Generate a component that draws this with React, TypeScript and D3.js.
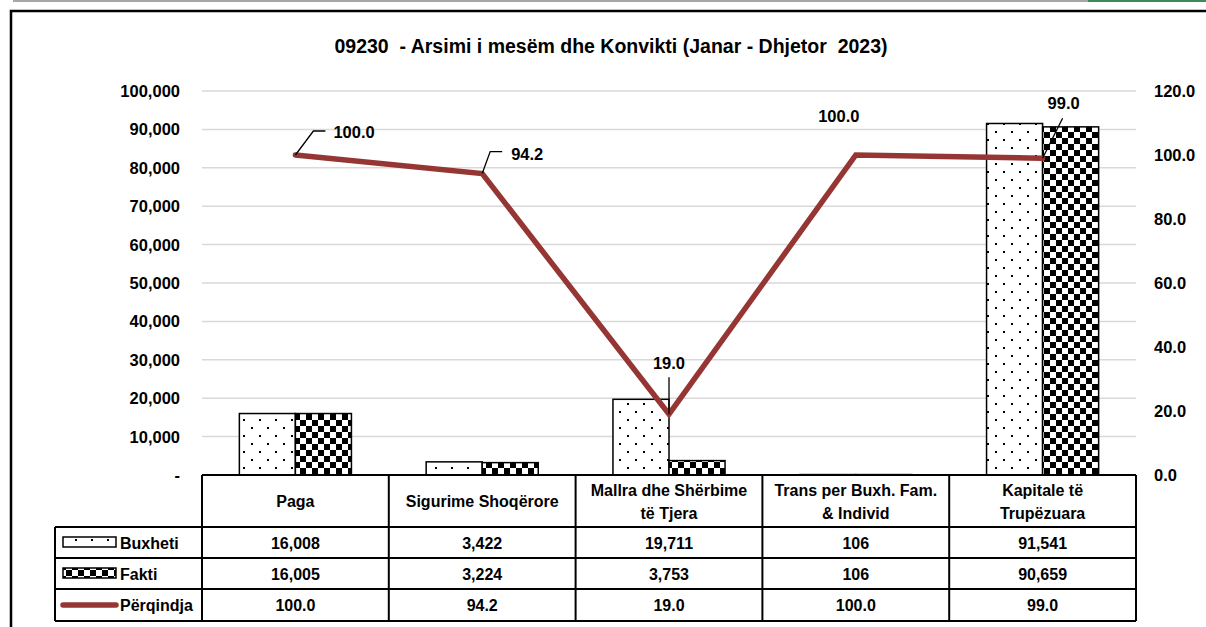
import React from "react";
import * as d3 from "d3";

const title = "09230  - Arsimi i mesëm dhe Konvikti (Janar - Dhjetor  2023)";
const categories = [
  ["Paga"],
  ["Sigurime Shoqërore"],
  ["Mallra dhe Shërbime", "të Tjera"],
  ["Trans per Buxh. Fam.", "& Individ"],
  ["Kapitale të", "Trupëzuara"],
];
const buxheti = [16008, 3422, 19711, 106, 91541];
const fakti = [16005, 3224, 3753, 106, 90659];
const perqindja = [100.0, 94.2, 19.0, 100.0, 99.0];
const leftTicks = [0, 10000, 20000, 30000, 40000, 50000, 60000, 70000, 80000, 90000, 100000];
const rightTicks = [0, 20, 40, 60, 80, 100, 120];
const seriesNames = ["Buxheti", "Fakti", "Përqindja"];

// label layout (offsets relative to points)
const labelOffsets = [
  { dx: 38, dy: -17, leader: [[18, -24], [30, -24]], anchor: "start" },
  { dx: 29, dy: -14, leader: [[8, -22], [20, -22]], anchor: "start" },
  { dx: 0, dy: -45, leader: [[0, -37]], anchor: "middle" },
  { dx: -17, dy: -33, leader: [], anchor: "middle" },
  { dx: 21, dy: -49, leader: [[20, -40]], anchor: "middle" },
];

const W = 1206;
const H = 627;
const plotL = 202;
const plotR = 1136;
const plotT = 91;
const plotB = 475;
const LINE = "#963634";
const FONT = "'Liberation Sans', Arial, sans-serif";

export default function App() {
  const x = d3.scaleBand<number>().domain(d3.range(categories.length)).range([plotL, plotR]).paddingInner(0).paddingOuter(0);
  const bw = x.bandwidth();
  const barW = bw * 0.3;
  const yL = d3.scaleLinear().domain([0, 100000]).range([plotB, plotT]);
  const yR = d3.scaleLinear().domain([0, 120]).range([plotB, plotT]);
  const cx = (i: number) => (x(i) as number) + bw / 2;
  const fmt = d3.format(",");
  const fmt1 = d3.format(".1f");

  const line = d3.line<number>().x((_, i) => cx(i)).y((d) => yR(d));

  const rowTop = [527, 558, 589];
  const rowBot = 621;
  const tableL = 55;

  return (
    <svg width={W} height={H} style={{ position: "absolute", left: 0, top: 0, background: "#fff" }} fontFamily={FONT}>
      <defs>
        <pattern id="dots" width="16" height="16" patternUnits="userSpaceOnUse">
          <rect width="16" height="16" fill="#fff" />
          <rect x="3" y="3" width="2" height="2" fill="#000" />
          <rect x="11" y="11" width="2" height="2" fill="#000" />
        </pattern>
        <pattern id="checker" width="12" height="12" patternUnits="userSpaceOnUse">
          <rect width="12" height="12" fill="#fff" />
          <rect x="0" y="0" width="6" height="6" fill="#000" />
          <rect x="6" y="6" width="6" height="6" fill="#000" />
        </pattern>
      </defs>
      {/* spreadsheet remnants at top */}
      <rect x={13} y={0} width={1075} height={2} fill="#a6a6a6" />
      <rect x={1088} y={0} width={118} height={2} fill="#3a8a5a" />
      {/* outer frame */}
      <rect x={11} y={11} width={1300} height={700} fill="none" stroke="#000" strokeWidth={2.5} />

      {/* title */}
      <text x={611} y={53} textAnchor="middle" fontSize={19.5} fontWeight="bold" style={{ whiteSpace: "pre" }}>
        {title}
      </text>

      {/* gridlines */}
      {leftTicks.slice(1).map((t) => (
        <line key={t} x1={plotL} x2={plotR} y1={yL(t)} y2={yL(t)} stroke="#d9d9d9" strokeWidth={1.5} />
      ))}

      {/* left axis labels */}
      {leftTicks.map((t) => (
        <text key={t} x={180} y={yL(t) + 6} textAnchor="end" fontSize={16.5} fontWeight="bold">
          {t === 0 ? "-" : fmt(t)}
        </text>
      ))}
      {/* right axis labels */}
      {rightTicks.map((t) => (
        <text key={t} x={1154} y={yR(t) + 6} textAnchor="start" fontSize={16.5} fontWeight="bold">
          {fmt1(t)}
        </text>
      ))}

      {/* bars */}
      {buxheti.map((v, i) => (
        <rect key={"b" + i} x={cx(i) - barW} y={yL(v)} width={barW} height={plotB - yL(v)} fill="url(#dots)" stroke="#000" strokeWidth={1.5} />
      ))}
      {fakti.map((v, i) => (
        <rect key={"f" + i} x={cx(i)} y={yL(v)} width={barW} height={plotB - yL(v)} fill="url(#checker)" stroke="#000" strokeWidth={1.5} />
      ))}

      {/* line */}
      <path d={line(perqindja) || ""} fill="none" stroke={LINE} strokeWidth={5.5} strokeLinejoin="miter" strokeLinecap="round" />

      {/* data labels */}
      {perqindja.map((v, i) => {
        const px = cx(i);
        const py = yR(v);
        const o = labelOffsets[i];
        const pts = [[0, 0], ...o.leader].map(([a, b]) => `${px + a},${py + b}`).join(" ");
        return (
          <g key={"l" + i}>
            {o.leader.length > 0 && <polyline points={pts} fill="none" stroke="#000" strokeWidth={1.3} />}
            <text x={px + o.dx} y={py + o.dy} textAnchor={o.anchor as any} fontSize={16.5} fontWeight="bold">
              {fmt1(v)}
            </text>
          </g>
        );
      })}

      {/* table */}
      <g stroke="#000" strokeWidth={2} fill="none">
        <line x1={plotL} x2={plotR} y1={plotB} y2={plotB} />
        <line x1={tableL} x2={plotR} y1={rowTop[0]} y2={rowTop[0]} />
        <line x1={tableL} x2={plotR} y1={rowTop[1]} y2={rowTop[1]} />
        <line x1={tableL} x2={plotR} y1={rowTop[2]} y2={rowTop[2]} />
        <line x1={tableL} x2={plotR} y1={rowBot} y2={rowBot} />
        <line x1={tableL} x2={tableL} y1={rowTop[0]} y2={rowBot} />
        {d3.range(categories.length + 1).map((i) => {
          const xx = i < categories.length ? (x(i) as number) : plotR;
          return <line key={i} x1={xx} x2={xx} y1={plotB} y2={rowBot} />;
        })}
      </g>
      {categories.map((lines, i) => (
        <text key={"c" + i} x={cx(i)} textAnchor="middle" fontSize={16} fontWeight="bold">
          {lines.map((s, k) => (
            <tspan key={k} x={cx(i)} y={(lines.length === 1 ? 507 : 496 + k * 23)}>
              {s}
            </tspan>
          ))}
        </text>
      ))}
      {[buxheti, fakti].map((arr, r) =>
        arr.map((v, i) => (
          <text key={r + "-" + i} x={cx(i)} y={(rowTop[r] + (r === 0 ? rowTop[1] : rowTop[2])) / 2 + 6} textAnchor="middle" fontSize={16} fontWeight="bold">
            {fmt(v)}
          </text>
        ))
      )}
      {perqindja.map((v, i) => (
        <text key={"p" + i} x={cx(i)} y={(rowTop[2] + rowBot) / 2 + 6} textAnchor="middle" fontSize={16} fontWeight="bold">
          {fmt1(v)}
        </text>
      ))}

      {/* legend keys */}
      <rect x={63} y={537} width={53} height={10} fill="url(#dots)" stroke="#000" strokeWidth={1.5} />
      <rect x={63} y={568} width={53} height={10} fill="url(#checker)" stroke="#000" strokeWidth={1.5} />
      <line x1={63} x2={116} y1={605} y2={605} stroke={LINE} strokeWidth={5.5} strokeLinecap="round" />
      {seriesNames.map((s, r) => (
        <text key={s} x={120} y={(rowTop[r] + (r < 2 ? rowTop[r + 1] : rowBot)) / 2 + 6} fontSize={16} fontWeight="bold">
          {s}
        </text>
      ))}
    </svg>
  );
}
